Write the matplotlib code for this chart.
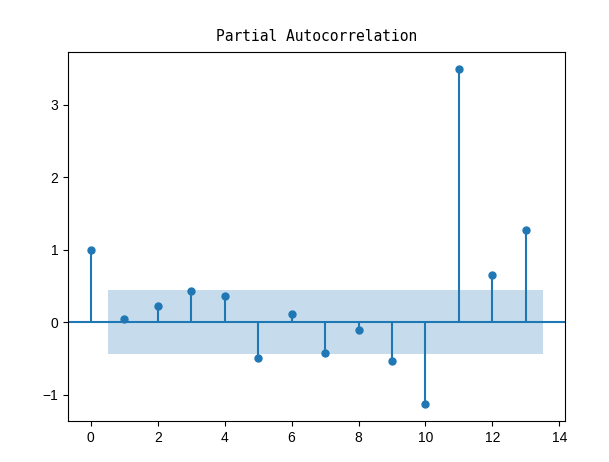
import matplotlib
matplotlib.use("Agg")
import matplotlib.pyplot as plt
import numpy as np

# partial autocorrelation values
lags = np.arange(14)
pacf = [1.0, 0.04, 0.22, 0.43, 0.36, -0.5, 0.11, -0.42, -0.11, -0.54,
        -1.13, 3.49, 0.65, 1.27]
conf = 0.445  # half-width of the confidence band

plt.rcParams['font.family'] = ['Liberation Sans', 'DejaVu Sans']

fig, ax = plt.subplots(figsize=(6.09, 4.62), dpi=100)
fig.subplots_adjust(left=0.112, right=0.928, top=0.887, bottom=0.089)
ax.vlines(lags, [0], pacf, color='C0')
ax.axhline(0, color='C0')
ax.plot(lags, pacf, 'o', color='C0', markersize=5)
band_x = np.array([lags[1] - 0.5, lags[-1] + 0.5])
ax.fill_between(band_x, -conf, conf, alpha=0.25, linewidth=0, color='C0')
ax.set_title('Partial Autocorrelation', family=['DejaVu Sans Mono'],
             fontsize=10.5, pad=8)

fig.savefig('out.png')
